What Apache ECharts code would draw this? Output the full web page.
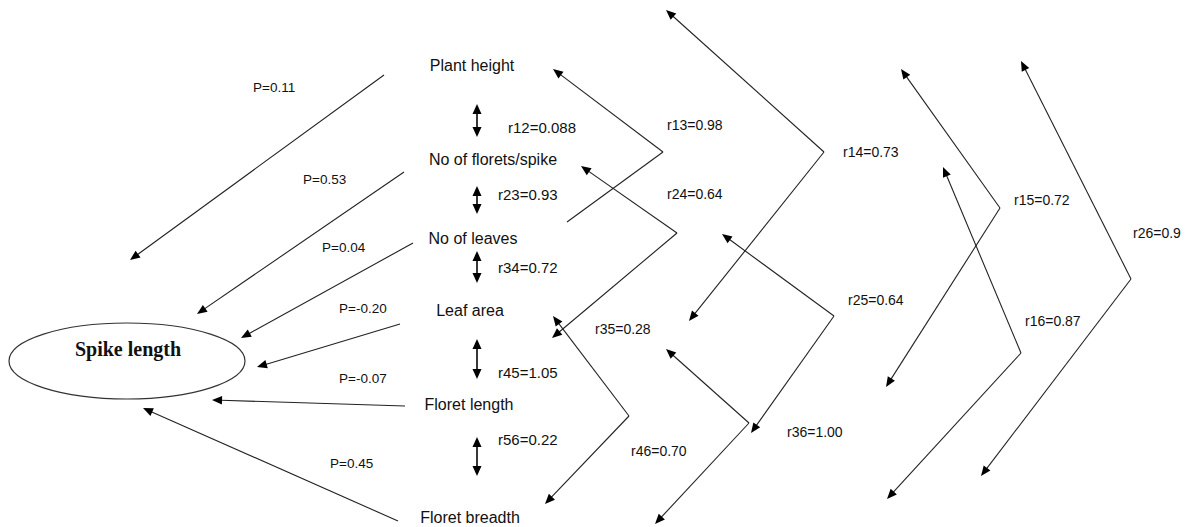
<!DOCTYPE html>
<html>
<head>
<meta charset="utf-8">
<script src="https://cdn.jsdelivr.net/npm/echarts@6/dist/echarts.min.js"></script>
<style>
html, body { margin: 0; padding: 0; background: #fff; }
#pathDiagram { width: 1189px; height: 527px; }
</style>
</head>
<body>
<div id="pathDiagram"></div>
<script>
// independent traits, name placement on the diagram
const nodeNames = ['Plant height', 'No of florets/spike', 'No of leaves', 'Leaf area', 'Floret length', 'Floret breadth'];
const nodeX = [472, 493, 473, 470, 469, 470];
const nodeY = [65, 159, 238, 310, 404, 517];

// dependent trait (ellipse: cx, cy, rx, ry)
const targetName = 'Spike length';
const targetEllipse = [127, 361, 118, 38];
const targetLabel = [128, 349];

// direct path coefficients P -> spike length
const pathLabels = ['P=0.11', 'P=0.53', 'P=0.04', 'P=-0.20', 'P=-0.07', 'P=0.45'];
const pathLabelX = [253, 303, 322, 339, 339, 330];
const pathLabelY = [87, 179, 247, 308, 378, 463];
const pathFrom = [[384, 75], [404, 172], [413, 243], [400, 324], [405, 406], [398, 521]];
const pathTo = [[130, 260], [197, 314], [241, 338], [257, 367], [212, 400], [143, 408]];

// correlations between neighbouring traits (vertical double arrows)
const adjLabels = ['r12=0.088', 'r23=0.93', 'r34=0.72', 'r45=1.05', 'r56=0.22'];
const adjLabelX = [508, 498, 498, 498, 498];
const adjLabelY = [127, 194, 267, 372, 439];
const adjArrowX = 477;
const adjTop = [104, 186, 251, 339, 437];
const adjBottom = [137, 214, 283, 379, 476];

// other correlations (bent arrows on the right)
const corrLabels = ['r13=0.98', 'r24=0.64', 'r14=0.73', 'r35=0.28', 'r46=0.70', 'r36=1.00', 'r25=0.64', 'r15=0.72', 'r16=0.87', 'r26=0.9'];
const corrLabelX = [667, 667, 843, 595, 631, 787, 848, 1014, 1025, 1133];
const corrLabelY = [125, 194, 152, 329, 451, 432, 300, 200, 321, 233];
const elbowVertex = [[663, 152], [677, 233], [824, 152], [629, 416], [834, 316], [749, 423], [1000, 208], [1021, 353], [1131, 279]];
const elbowEndA = [[553, 69], [581, 166], [666, 10], [553, 316], [722, 234], [666, 349], [901, 69], [943, 167], [1021, 61]];
const elbowEndB = [[567, 222], [552, 338], [689, 321], [545, 504], [751, 433], [655, 524], [886, 387], [887, 499], [981, 476]];
const elbowHeadB = [0, 1, 1, 1, 1, 1, 1, 1, 1];

// segments: x1, y1, x2, y2, head at start, head at end
let segments = []
pathFrom.forEach((p, i) => segments.push([p[0], p[1], pathTo[i][0], pathTo[i][1], 0, 1]))
elbowVertex.forEach((v, i) => {
  segments.push([v[0], v[1], elbowEndA[i][0], elbowEndA[i][1], 0, 1])
  segments.push([v[0], v[1], elbowEndB[i][0], elbowEndB[i][1], 0, elbowHeadB[i]])
})
let adjSegments = adjTop.map((t, i) => [adjArrowX, t, adjArrowX, adjBottom[i], 1, 1])

const lineColor = '#222'
const textColor = '#111'
const sansFont = '"Liberation Sans", Arial, sans-serif'

function arrowSeries (data, width, L, W) {
  return {
    type: 'custom',
    coordinateSystem: 'cartesian2d',
    silent: true,
    data: data,
    renderItem: function (params, api) {
      let a = api.coord([api.value(0), api.value(1)])
      let b = api.coord([api.value(2), api.value(3)])
      let dx = b[0] - a[0], dy = b[1] - a[1]
      let len = Math.sqrt(dx * dx + dy * dy)
      let ux = dx / len, uy = dy / len
      let s = a, e = b
      let children = []
      // head with tip at 'tip', pointing along (hx, hy)
      let head = function (tip, hx, hy) {
        let bx = tip[0] - hx * L, by = tip[1] - hy * L
        return {
          type: 'polygon',
          shape: { points: [tip, [bx - hy * W, by + hx * W], [bx + hy * W, by - hx * W]] },
          style: { fill: '#000' }
        }
      }
      if (api.value(4)) {
        children.push(head(a, -ux, -uy))
        s = [a[0] + ux * (L - 1), a[1] + uy * (L - 1)]
      }
      if (api.value(5)) {
        children.push(head(b, ux, uy))
        e = [b[0] - ux * (L - 1), b[1] - uy * (L - 1)]
      }
      children.unshift({
        type: 'line',
        shape: { x1: s[0], y1: s[1], x2: e[0], y2: e[1] },
        style: { stroke: lineColor, lineWidth: width }
      })
      return { type: 'group', children: children }
    }
  }
}

function textSeries (names, xs, ys, align, font) {
  return {
    type: 'custom',
    coordinateSystem: 'cartesian2d',
    silent: true,
    data: xs.map((x, i) => [x, ys[i]]),
    renderItem: function (params, api) {
      let p = api.coord([api.value(0), api.value(1)])
      return {
        type: 'text',
        x: p[0],
        y: p[1],
        style: {
          text: names[params.dataIndex],
          align: align,
          verticalAlign: 'middle',
          font: font,
          fill: textColor
        }
      }
    }
  }
}

let myChart = echarts.init(document.getElementById('pathDiagram'), null, { renderer: 'svg' })
myChart.setOption({
  backgroundColor: '#fff',
  animation: false,
  grid: { left: 0, right: 0, top: 0, bottom: 0 },
  xAxis: { type: 'value', min: 0, max: 1189, show: false },
  yAxis: { type: 'value', min: 0, max: 527, inverse: true, show: false },
  series: [
    {
      type: 'custom',
      coordinateSystem: 'cartesian2d',
      silent: true,
      data: [targetEllipse],
      renderItem: function (params, api) {
        let c = api.coord([api.value(0), api.value(1)])
        let r = api.size([api.value(2), api.value(3)])
        return {
          type: 'ellipse',
          shape: { cx: c[0], cy: c[1], rx: r[0], ry: r[1] },
          style: { fill: '#fff', stroke: '#333', lineWidth: 1.2 }
        }
      }
    },
    arrowSeries(segments, 1.1, 10, 4.2),
    arrowSeries(adjSegments, 1.8, 10, 4.5),
    textSeries([targetName], [targetLabel[0]], [targetLabel[1]], 'center', 'bold 20px "Liberation Serif", "Times New Roman", serif'),
    textSeries(nodeNames, nodeX, nodeY, 'center', '16px ' + sansFont),
    textSeries(adjLabels, adjLabelX, adjLabelY, 'left', '15px ' + sansFont),
    textSeries(corrLabels, corrLabelX, corrLabelY, 'left', '14px ' + sansFont),
    textSeries(pathLabels, pathLabelX, pathLabelY, 'left', '13.5px ' + sansFont)
  ]
})
</script>
</body>
</html>
